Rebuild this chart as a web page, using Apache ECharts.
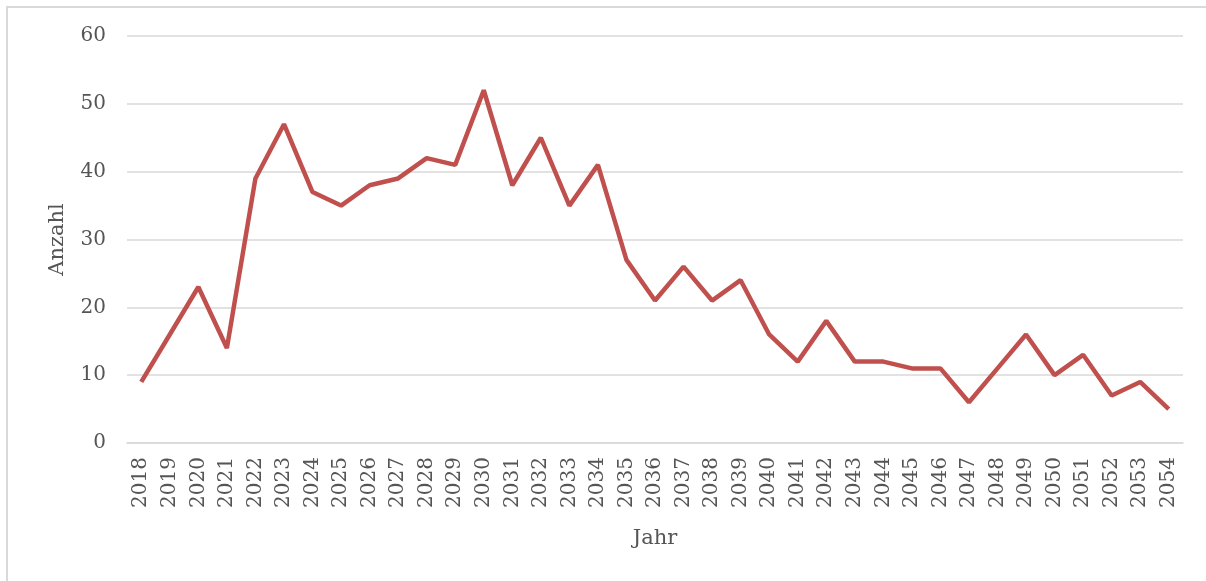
<!DOCTYPE html>
<html>
<head>
<meta charset="utf-8">
<script src="https://cdn.jsdelivr.net/npm/echarts@6/dist/echarts.min.js"></script>
<style>
  html, body { margin: 0; padding: 0; background: #fff; }
  #c1 { width: 1206px; height: 581px; }
</style>
</head>
<body>
<div id="c1"></div>
<script>
// Jahre und Anzahl
var jahre = [
  "2018", "2019", "2020", "2021", "2022", "2023", "2024", "2025", "2026",
  "2027", "2028", "2029", "2030", "2031", "2032", "2033", "2034", "2035",
  "2036", "2037", "2038", "2039", "2040", "2041", "2042", "2043", "2044",
  "2045", "2046", "2047", "2048", "2049", "2050", "2051", "2052", "2053",
  "2054"
];
var anzahl = [
  9, 16, 23, 14, 39, 47, 37, 35, 38,
  39, 42, 41, 52, 38, 45, 35, 41, 27,
  21, 26, 21, 24, 16, 12, 18, 12, 12,
  11, 11, 6, 11, 16, 10, 13, 7, 9,
  5
];

var font = "'DejaVu Serif', 'Liberation Serif', serif";
var myChart = echarts.init(document.getElementById("c1"));
var option = {
  animation: false,
  graphic: [
    {
      // Rahmen (nur oben und links sichtbar)
      type: "rect",
      shape: { x: 7, y: 7, width: 1300, height: 700 },
      style: { fill: null, stroke: "#d9d9d9", lineWidth: 2 },
      silent: true
    }
  ],
  grid: {
    left: 127,
    right: 23,
    top: 36,
    bottom: 138
  },
  xAxis: {
    type: "category",
    data: jahre,
    boundaryGap: true,
    name: "Jahr",
    nameLocation: "middle",
    nameGap: 85,
    nameTextStyle: { color: "#555", fontFamily: font, fontSize: 21 },
    axisLine: { show: true, lineStyle: { color: "#d9d9d9", width: 1.5 } },
    axisTick: { show: false },
    axisLabel: {
      rotate: 90,
      interval: 0,
      margin: 14,
      color: "#555",
      fontFamily: font,
      fontSize: 20
    }
  },
  yAxis: {
    type: "value",
    min: 0,
    max: 60,
    interval: 10,
    name: "Anzahl",
    nameLocation: "middle",
    nameGap: 59,
    nameTextStyle: { color: "#555", fontFamily: font, fontSize: 21 },
    axisLine: { show: false },
    axisTick: { show: false },
    axisLabel: {
      margin: 21,
      color: "#555",
      fontFamily: font,
      fontSize: 20
    },
    splitLine: { lineStyle: { color: "#d9d9d9", width: 1.5 } }
  },
  series: [
    {
      name: "Anzahl",
      type: "line",
      data: anzahl,
      symbol: "none",
      lineStyle: { color: "#c0504d", width: 4.5 },
      itemStyle: { color: "#c0504d" }
    }
  ]
};
myChart.setOption(option);
</script>
</body>
</html>
